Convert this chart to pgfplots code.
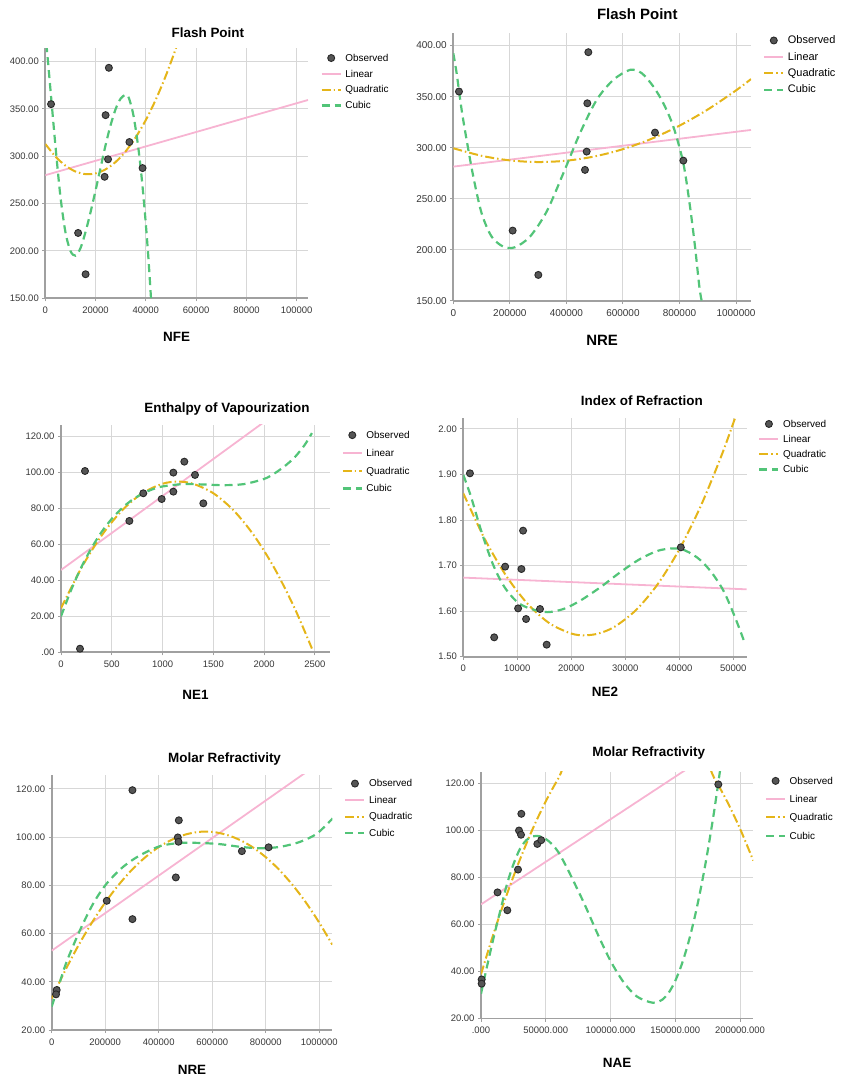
\documentclass[border=0pt]{standalone}
\usepackage{fontspec}
\setmainfont{Liberation Sans}
\usepackage{pgfplots}
\pgfplotsset{compat=1.18}

\definecolor{linpink}{RGB}{247,180,210}
\definecolor{quadgold}{RGB}{229,181,25}
\definecolor{cubgreen}{RGB}{82,196,120}
\definecolor{gridgray}{RGB}{215,215,215}
\definecolor{axisgray}{RGB}{160,160,160}
\definecolor{obsfill}{RGB}{85,85,85}
\definecolor{obsdraw}{RGB}{40,40,40}
\definecolor{ticktext}{RGB}{55,55,55}

\pgfplotsset{
  legend image code/.code={\draw[mark repeat=2,mark phase=2,#1] plot coordinates {(0bp,0bp) (9.5bp,0bp) (19bp,0bp)};},
  fitpanel/.style={
    scale only axis,
    anchor=south west,
    axis x line*=bottom, axis y line*=left,
    axis line style={axisgray, line width=1.7bp},
    grid=major,
    major grid style={gridgray, line width=1bp},
    tick align=outside,
    major tick length=3bp,
    tick style={axisgray, line width=1bp},
    scaled ticks=false,
    ticklabel style={font=\fontsize{9.5}{11}\selectfont, text=ticktext},
    xticklabel style={yshift=-2bp},
    title style={anchor=center, font=\bfseries\fontsize{13.5}{15}\selectfont},
    xlabel style={anchor=center, font=\bfseries\fontsize{13.5}{15}\selectfont},
    legend cell align=left,
    legend style={draw=none, fill=none, anchor=north west,
      font=\fontsize{10}{12}\selectfont, inner sep=0pt, outer sep=0pt,
      nodes={inner sep=0pt, text height=7.5bp, text depth=1bp},
      /tikz/every odd column/.append style={column sep=3.5bp}},
  },
  obs/.style={only marks, mark=*, mark size=3.5bp, mark options={fill=obsfill, draw=obsdraw, line width=0.9bp}},
  lin/.style={no marks, linpink, line width=1.8bp},
  quad/.style={no marks, smooth, quadgold, line width=2bp, dash pattern=on 9bp off 3bp on 1.5bp off 3bp},
  cub/.style={no marks, smooth, cubgreen, line width=2.2bp, dash pattern=on 8bp off 5bp},
}

\begin{document}
\begin{tikzpicture}
\useasboundingbox (0,0) rectangle (842bp,1077bp);

% ---------------- Flash Point vs NFE ----------------
\begin{axis}[fitpanel,
  at={(45.3bp,778.7bp)}, width=262.7bp, height=250bp,
  xmin=0, xmax=104500, ymin=150, ymax=414,
  xtick={0,20000,40000,60000,80000,100000},
  xticklabels={0,20000,40000,60000,80000,100000},
  ytick={150,200,250,300,350,400},
  yticklabels={150.00,200.00,250.00,300.00,350.00,400.00},
  title={Flash Point}, title style={at={(axis description cs:0.619,1.04)}},
  xlabel={NFE}, xlabel style={at={(axis description cs:0.5,-0.1536)}},
  legend style={at={(axis description cs:1.048,0.978)}, row sep=7.3bp},
]
\addplot[obs] coordinates {(2290,355) (25290,393.4) (23985,343.4) (33465,315) (24965,296.8) (23593,278.3) (38693,287.5) (13065,219) (16029,175.4)};
\addplot[lin] coordinates {(0,280) (104500,359.4)};
\addplot[quad] coordinates {(0,313.0) (4000,299.8) (8000,290.1) (12000,283.9) (16000,281.1) (20000,281.9) (24000,286.2) (28000,294.0) (32000,305.3) (36000,320.1) (40000,338.3) (44000,360.1) (48000,385.4) (52000,414.2) (54000,429.9)};
\addplot[cub] coordinates {(0,432) (2000,372) (4000,312) (6000,258) (8000,220) (10000,200) (12000,195) (14000,203) (16000,220) (18000,241) (20000,264) (22000,288) (24000,312) (26000,333) (28000,350) (30000,361) (32000,365) (33000,363) (34000,355) (35000,344) (36000,328) (37000,309) (38000,286) (39000,259) (40000,228) (41000,193) (42000,152) (42400,134)};
\legend{Observed,Linear,Quadratic,Cubic}
\end{axis}

% ---------------- Flash Point vs NRE ----------------
\begin{axis}[fitpanel,
  at={(453.3bp,776bp)}, width=297.7bp, height=267.7bp,
  xmin=0, xmax=1053000, ymin=150, ymax=412,
  xtick={0,200000,400000,600000,800000,1000000},
  xticklabels={0,200000,400000,600000,800000,1000000},
  ytick={150,200,250,300,350,400},
  yticklabels={150.00,200.00,250.00,300.00,350.00,400.00},
  ticklabel style={font=\fontsize{10}{12}\selectfont},
  title={Flash Point}, title style={at={(axis description cs:0.618,1.0497)}, font=\bfseries\fontsize{15}{17}\selectfont},
  xlabel={NRE}, xlabel style={at={(axis description cs:0.5,-0.1457)}, font=\bfseries\fontsize{15}{17}\selectfont},
  legend style={at={(axis description cs:1.041,0.989)}, row sep=7.9bp, font=\fontsize{11}{13}\selectfont},
]
\addplot[obs] coordinates {(20047,355) (477594,393.5) (474056,343.5) (471698,296.2) (465802,278.3) (713443,314.8) (813679,287.4) (209906,218.9) (300708,175.5)};
\addplot[lin] coordinates {(0,281.5) (1053000,317.4)};
\addplot[quad] coordinates {(0,299.5) (100000,292.1) (200000,287.6) (300000,286.0) (400000,287.3) (500000,291.5) (600000,298.6) (700000,308.6) (800000,321.6) (900000,337.4) (1000000,356.1) (1053000,367.2)};
\addplot[cub] coordinates {(0,392.5) (11792,372.9) (29481,337) (47170,307.6) (70755,271.7) (100236,235.8) (135613,213) (176887,203.2) (218160,202.6) (271226,213) (330189,237.5) (389151,275) (448113,314.2) (507075,346.8) (566038,366.4) (625000,376.2) (666274,373) (707547,359.9) (742925,343.5) (778302,320.7) (813679,284.8) (837264,242.4) (854953,203.2) (870283,164) (878538,150)};
\legend{Observed,Linear,Quadratic,Cubic}
\end{axis}

% ---------------- Enthalpy of Vapourization vs NE1 ----------------
\begin{axis}[fitpanel,
  at={(61bp,424.7bp)}, width=269bp, height=227.3bp,
  xmin=0, xmax=2648, ymin=0, ymax=126.5,
  xtick={0,500,1000,1500,2000,2500},
  xticklabels={0,500,1000,1500,2000,2500},
  ytick={0,20,40,60,80,100,120},
  yticklabels={.00,20.00,40.00,60.00,80.00,100.00,120.00},
  title={Enthalpy of Vapourization}, title style={at={(axis description cs:0.617,1.044)}},
  xlabel={NE1}, xlabel style={at={(axis description cs:0.5,-0.1879)}},
  legend style={at={(axis description cs:1.0435,0.974)}, row sep=9.3bp},
]
\addplot[obs] coordinates {(236,100.9) (187,2.0) (673,73.1) (810,88.5) (991,85.3) (1106,89.4) (1106,100) (1214,106.1) (1319,98.7) (1401,82.9)};
\addplot[lin] coordinates {(0,45.8) (2000,128.2)};
\addplot[quad] coordinates {(0,24.5) (200,46.9) (400,65.0) (600,78.9) (800,88.5) (1000,93.8) (1150,95.0) (1300,93.8) (1500,88.5) (1700,78.9) (1900,65.0) (2100,46.9) (2300,24.5) (2470,2.1)};
\addplot[cub] coordinates {(0,20) (100,34.7) (200,47.3) (300,58) (400,67) (500,74.3) (600,80.2) (700,84.8) (800,88.2) (900,90.7) (1000,92.3) (1200,93.6) (1400,93.4) (1600,93.0) (1800,93.6) (2000,96.5) (2100,99.5) (2200,103.5) (2300,108.5) (2400,115.5) (2470,122)};
\legend{Observed,Linear,Quadratic,Cubic}
\end{axis}

% ---------------- Index of Refraction vs NE2 ----------------
\begin{axis}[fitpanel,
  at={(463.3bp,420.3bp)}, width=283.4bp, height=238.4bp,
  xmin=0, xmax=52480, ymin=1.5, ymax=2.0234,
  xtick={0,10000,20000,30000,40000,50000},
  xticklabels={0,10000,20000,30000,40000,50000},
  ytick={1.5,1.6,1.7,1.8,1.9,2.0},
  yticklabels={1.50,1.60,1.70,1.80,1.90,2.00},
  title={Index of Refraction}, title style={at={(axis description cs:0.63,1.0487)}},
  xlabel={NE2}, xlabel style={at={(axis description cs:0.5,-0.148)}},
  legend style={at={(axis description cs:1.041,0.994)}, row sep=6.7bp},
]
\addplot[obs] coordinates {(1230,1.9026) (5720,1.5425) (7749,1.6977) (10148,1.6061) (10763,1.6925) (11070,1.7767) (11624,1.5827) (14207,1.6047) (15437,1.5264) (40283,1.7401)};
\addplot[lin] coordinates {(0,1.6736) (52480,1.6479)};
\addplot[quad] coordinates {(0,1.8587) (4000,1.7577) (8000,1.6765) (12000,1.6149) (16000,1.5730) (20000,1.5508) (22500,1.5470) (25000,1.5508) (28000,1.5656) (32000,1.6026) (36000,1.6592) (40000,1.7356) (44000,1.8316) (48000,1.9474) (51000,2.0471)};
\addplot[cub] coordinates {(0,1.899) (1414,1.8517) (3259,1.7785) (5412,1.705) (7564,1.6539) (10025,1.6197) (12485,1.6051) (15560,1.5978) (18635,1.6051) (21710,1.6234) (25400,1.6526) (29090,1.6856) (32780,1.7148) (36470,1.734) (40160,1.7368) (43235,1.7184) (45695,1.6892) (48155,1.6453) (50307,1.5868) (52152,1.5293)};
\legend{Observed,Linear,Quadratic,Cubic}
\end{axis}

% ---------------- Molar Refractivity vs NRE ----------------
\begin{axis}[fitpanel,
  at={(51.7bp,47bp)}, width=280.6bp, height=255bp,
  xmin=0, xmax=1048600, ymin=20, ymax=125.8,
  xtick={0,200000,400000,600000,800000,1000000},
  xticklabels={0,200000,400000,600000,800000,1000000},
  ytick={20,40,60,80,100,120},
  yticklabels={20.00,40.00,60.00,80.00,100.00,120.00},
  title={Molar Refractivity}, title style={at={(axis description cs:0.616,1.039)}},
  xlabel={NRE}, xlabel style={at={(axis description cs:0.5,-0.157)}},
  legend style={at={(axis description cs:1.043,0.983)}, row sep=8bp},
]
\addplot[obs] coordinates {(301746,119.5) (475062,107) (471322,99.9) (473815,98.1) (463840,83.3) (710723,94.2) (810474,95.8) (205736,73.6) (301746,66) (18703,36.6) (16209,34.8)};
\addplot[lin] coordinates {(0,52.9) (1000000,130.8)};
\addplot[quad] coordinates {(0,33.1) (50000,44.6) (100000,55.1) (150000,64.5) (200000,72.9) (250000,80.2) (300000,86.5) (350000,91.7) (400000,95.9) (450000,99.0) (500000,101.1) (550000,102.2) (600000,102.2) (650000,101.1) (700000,99.0) (750000,95.9) (800000,91.7) (850000,86.5) (900000,80.2) (950000,72.9) (1000000,64.5) (1048600,55.4)};
\addplot[cub] coordinates {(0,29.7) (24940,38) (56114,48.4) (105985,61.5) (155860,72.6) (205736,80.8) (268080,87.8) (330424,92.5) (405237,96.3) (480050,97.6) (554863,97.6) (629676,97.1) (704489,96) (779302,95.4) (854115,96) (928928,98.1) (991272,101.5) (1049875,107.8)};
\legend{Observed,Linear,Quadratic,Cubic}
\end{axis}

% ---------------- Molar Refractivity vs NAE ----------------
\begin{axis}[fitpanel,
  at={(481bp,58.5bp)}, width=272.3bp, height=246.8bp,
  xmin=0, xmax=210270, ymin=20, ymax=124.9,
  xtick={0,50000,100000,150000,200000},
  xticklabels={.000,50000.000,100000.000,150000.000,200000.000},
  ytick={20,40,60,80,100,120},
  yticklabels={20.00,40.00,60.00,80.00,100.00,120.00},
  title={Molar Refractivity}, title style={at={(axis description cs:0.616,1.0515)}},
  xlabel={NAE}, xlabel style={at={(axis description cs:0.5,-0.18)}},
  legend style={at={(axis description cs:1.043,0.980)}, row sep=9.8bp},
]
\addplot[obs] coordinates {(183269,119.5) (31150,107) (29350,99.9) (30900,98.1) (28570,83.3) (43500,94.2) (46500,95.8) (12760,73.6) (20330,66) (500,36.6) (500,34.8)};
\addplot[lin] coordinates {(0,68.5) (160000,126.4)};
\addplot[quad] coordinates {(0,38.8) (10000,56.6) (20000,72.8) (30000,87.5) (40000,100.7) (50000,112.3) (60000,122.3) (70000,130.9) (120000,150.2) (170000,130.9) (180000,122.3) (190000,112.3) (200000,100.7) (210270,87.1)};
\addplot[cub] coordinates {(0,30.5) (5000,43) (10000,55) (15000,66) (20000,77) (25000,85.5) (30000,92) (35000,95.8) (40000,97.4) (45000,97.5) (50000,96.3) (55000,94) (60000,90.5) (65000,85.5) (70000,80) (80000,68.5) (90000,56) (100000,44.5) (110000,35.5) (120000,29.5) (130000,27) (135000,26.8) (140000,28) (145000,31) (150000,36) (155000,43) (160000,52) (165000,63) (170000,76) (175000,91) (180000,108) (185000,127)};
\legend{Observed,Linear,Quadratic,Cubic}
\end{axis}
\end{tikzpicture}
\end{document}
